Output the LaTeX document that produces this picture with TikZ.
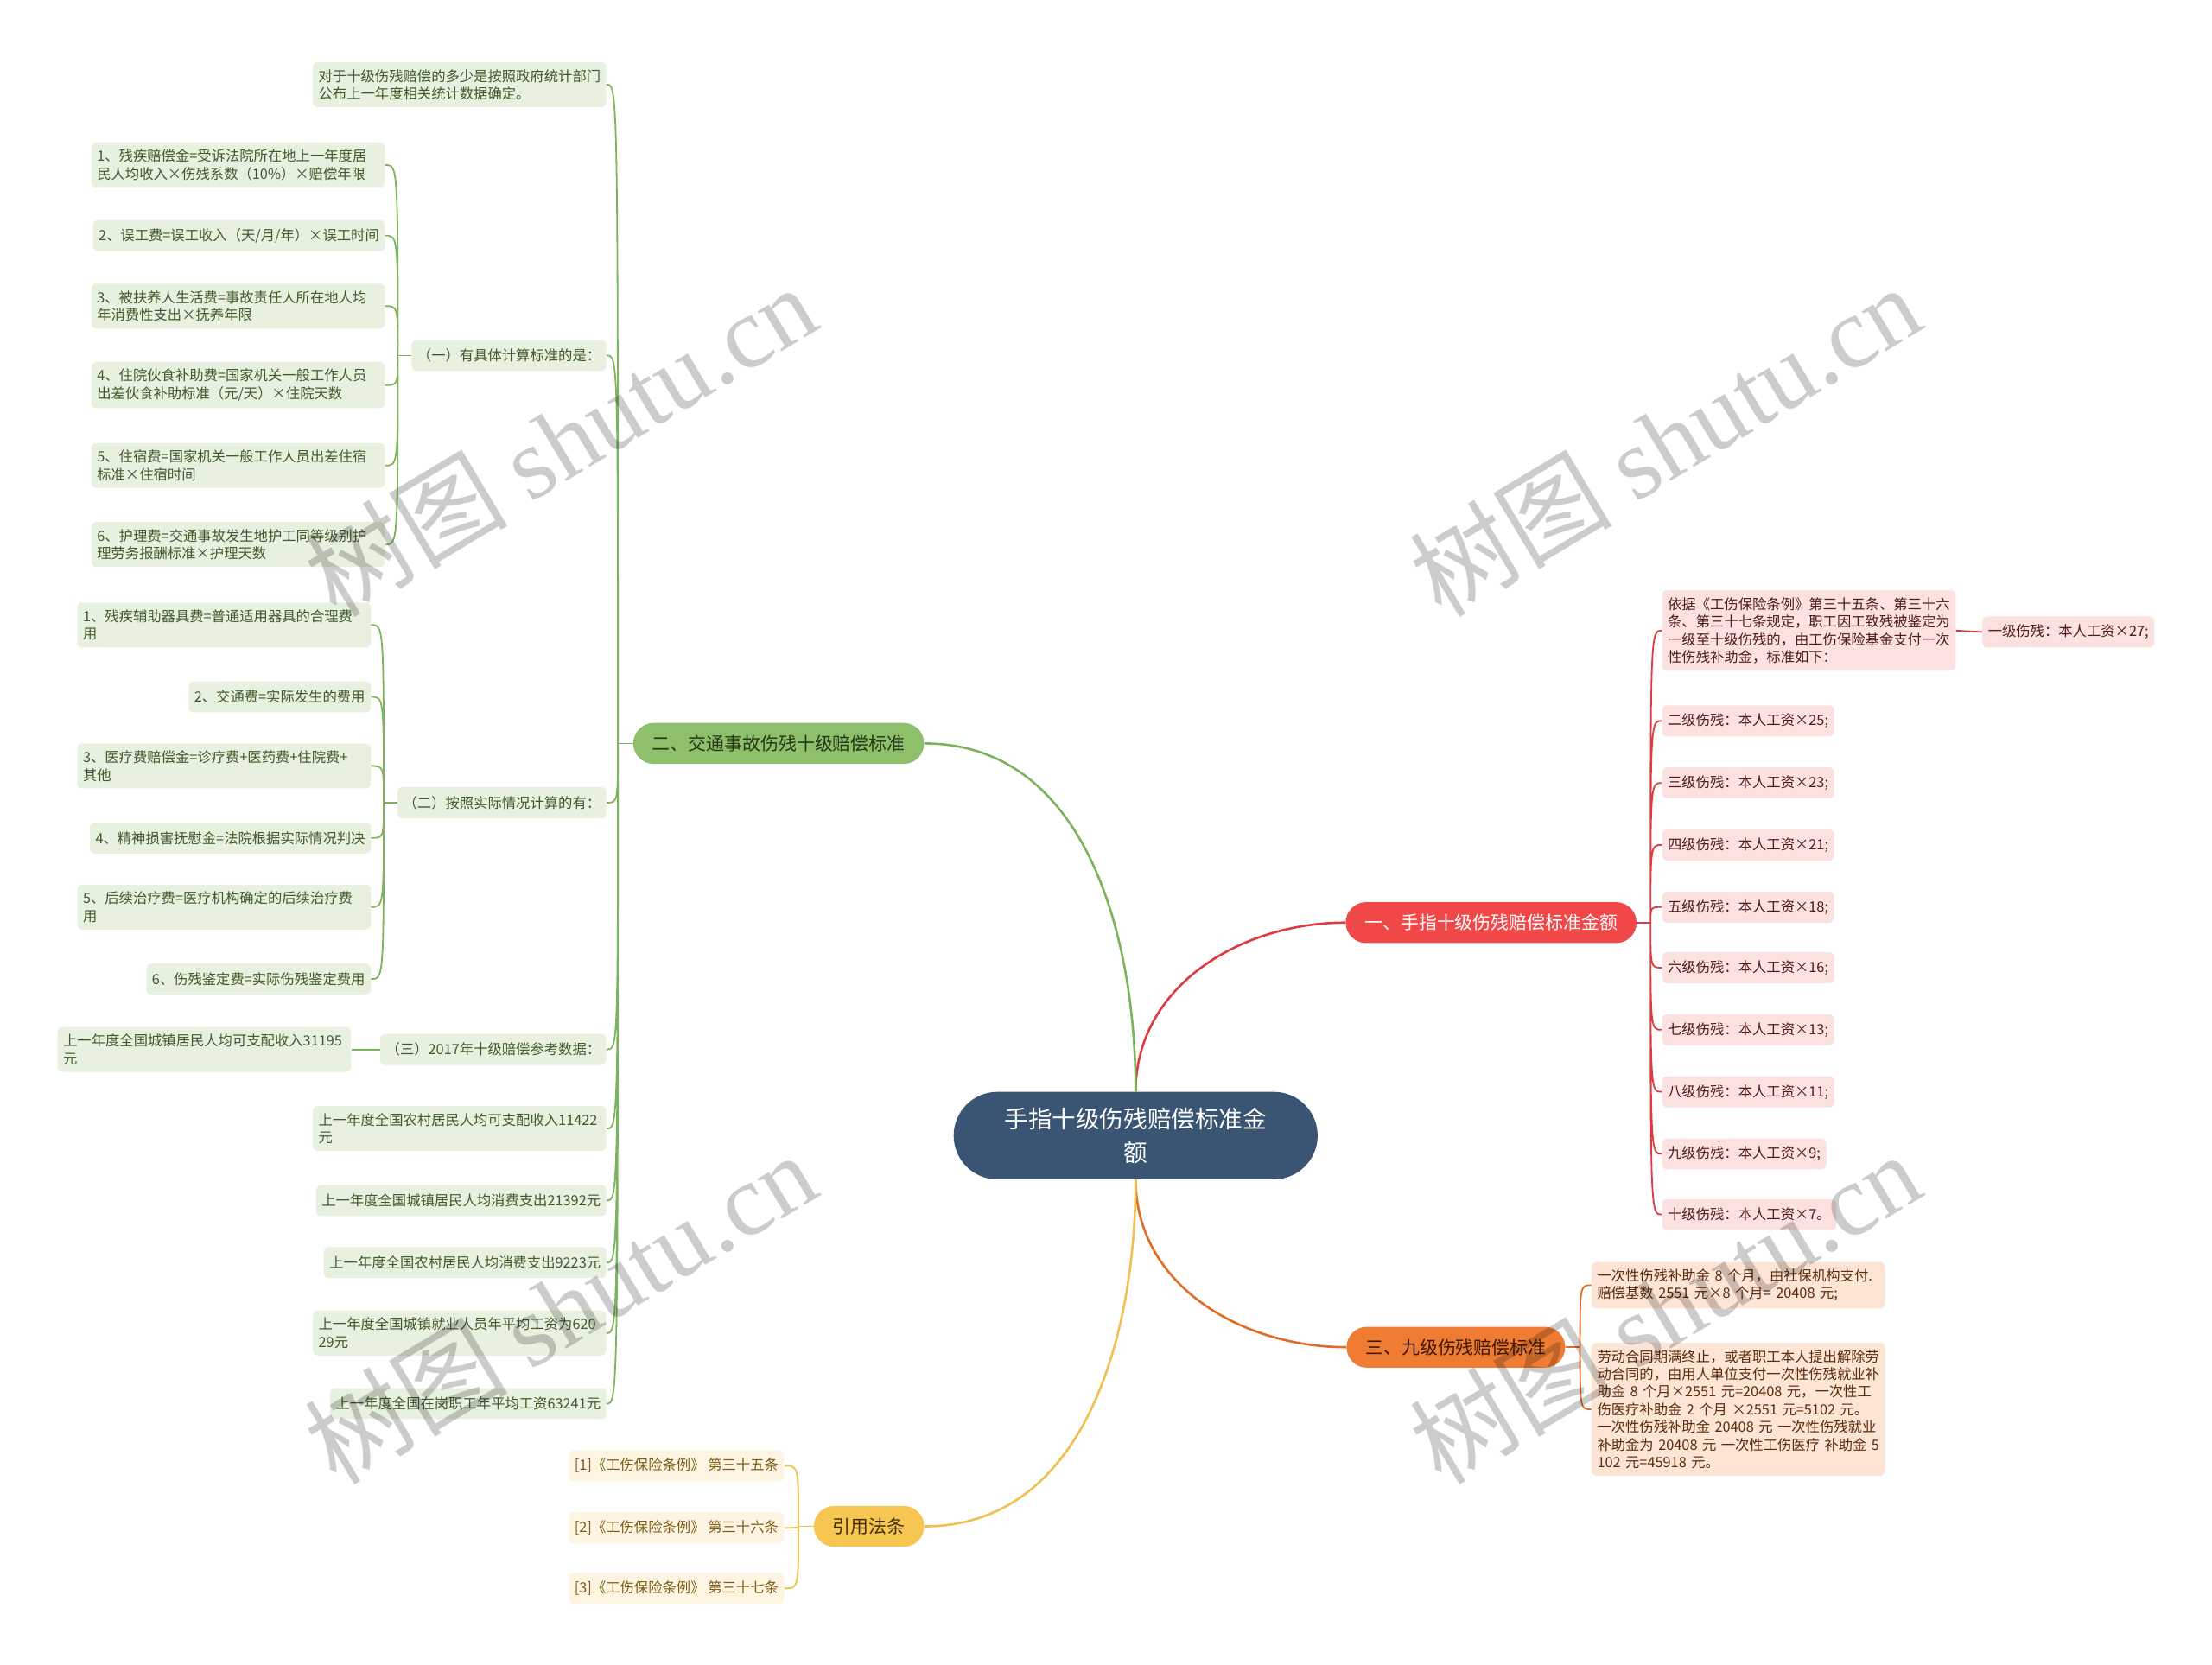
\documentclass[tikz,border=0pt]{standalone}
\usepackage{fontspec}
\setmainfont{Noto Sans CJK SC}
\newfontfamily\wmfont{Liberation Serif}
\usetikzlibrary{calc}

\definecolor{hubblue}{HTML}{3A5573}
\definecolor{rline}{HTML}{DD3B3E}
\definecolor{rfill}{HTML}{F04848}
\definecolor{rpale}{HTML}{FCE1E1}
\definecolor{rtext}{HTML}{4E1A1A}
\definecolor{gline}{HTML}{7DB35C}
\definecolor{gfill}{HTML}{8EC06C}
\definecolor{gpale}{HTML}{E8F0DF}
\definecolor{gtext}{HTML}{3E5A2B}
\definecolor{gdark}{HTML}{26361A}
\definecolor{oline}{HTML}{E06C28}
\definecolor{ofill}{HTML}{F07C34}
\definecolor{opale}{HTML}{FDE5D6}
\definecolor{otext}{HTML}{5A2A0C}
\definecolor{odark}{HTML}{3A1804}
\definecolor{yline}{HTML}{F0C150}
\definecolor{yfill}{HTML}{F7C652}
\definecolor{ypale}{HTML}{FDF4E2}
\definecolor{ytext}{HTML}{7A5A14}
\definecolor{ydark}{HTML}{3D2C00}

\begin{document}
\begin{tikzpicture}[x=1pt,y=-1pt,
  hub/.style={fill=hubblue,text=white,rounded corners=31pt,minimum width=258pt,minimum height=62pt,align=center,font=\fontsize{16.9}{23.5}\selectfont},
  branch/.style={rounded corners=14.5pt,minimum height=29pt,inner xsep=13.5pt,font=\fontsize{12.8}{15}\selectfont},
  leaf/.style={rounded corners=3.5pt,inner xsep=4pt,inner ysep=5pt,minimum height=22pt,align=left,font=\fontsize{10}{12.5}\selectfont},
  wide/.style={text width=200pt},
  rleaf/.style={leaf,fill=rpale,text=rtext},
  gleaf/.style={leaf,fill=gpale,text=gtext},
  oleaf/.style={leaf,fill=opale,text=otext},
  yleaf/.style={leaf,fill=ypale,text=ytext},
  mainlink/.style={line width=1.6pt},
  link/.style={line width=1.1pt},
  brk/.style={to path={.. controls (\tikztostart |- \tikztotarget) .. (\tikztotarget)}},
  wmark/.style={text=black,opacity=0.2,rotate=31,font=\fontsize{72}{72}\selectfont}]
  \fill[white] (0,0) rectangle (1568,1180);
  \useasboundingbox (0,0) rectangle (1568,1180);

  \node[hub] (hub) at (805,805) {手指十级伤残赔偿标准金\\额};

  \node[branch,fill=rfill,text=white] (b1) at (1057,654) {一、手指十级伤残赔偿标准金额};
  \node[branch,fill=gfill,text=gdark] (b2) at (552,527) {二、交通事故伤残十级赔偿标准};
  \node[branch,fill=ofill,text=odark] (b3) at (1032,955) {三、九级伤残赔偿标准};
  \node[branch,fill=yfill,text=ydark] (b4) at (616,1082) {引用法条};

  \draw[mainlink,rline] (hub.north) to[out=90,in=180] (b1.west);
  \draw[mainlink,gline] (hub.north) to[out=90,in=0] (b2.east);
  \draw[mainlink,oline] (hub.south) to[out=-90,in=180] (b3.west);
  \draw[mainlink,yline] (hub.south) to[out=-90,in=0] (b4.east);

  % 一
  \node[rleaf,wide,anchor=west] (r0) at (1178,447) {依据《工伤保险条例》第三十五条、第三十六\\条、第三十七条规定，职工因工致残被鉴定为\\一级至十级伤残的，由工伤保险基金支付一次\\性伤残补助金，标准如下：};
  \node[rleaf,anchor=west] (r1) at (1405,448) {一级伤残：本人工资×27;};
  \node[rleaf,anchor=west] (r2) at (1178,511) {二级伤残：本人工资×25;};
  \node[rleaf,anchor=west] (r3) at (1178,555) {三级伤残：本人工资×23;};
  \node[rleaf,anchor=west] (r4) at (1178,599) {四级伤残：本人工资×21;};
  \node[rleaf,anchor=west] (r5) at (1178,643) {五级伤残：本人工资×18;};
  \node[rleaf,anchor=west] (r6) at (1178,686) {六级伤残：本人工资×16;};
  \node[rleaf,anchor=west] (r7) at (1178,730) {七级伤残：本人工资×13;};
  \node[rleaf,anchor=west] (r8) at (1178,774) {八级伤残：本人工资×11;};
  \node[rleaf,anchor=west] (r9) at (1178,818) {九级伤残：本人工资×9;};
  \node[rleaf,anchor=west] (r10) at (1178,861) {十级伤残：本人工资×7。};
  \coordinate (j1) at (1170,654);
  \draw[link,rline] (b1.east) -- (j1);
  \draw[link,rline] (r0.east) -- (r1.west);
  \draw[link,rline] (j1) to[brk] (r0.west) (j1) to[brk] (r2.west) (j1) to[brk] (r3.west)
    (j1) to[brk] (r4.west) (j1) to[brk] (r5.west) (j1) to[brk] (r6.west)
    (j1) to[brk] (r7.west) (j1) to[brk] (r8.west) (j1) to[brk] (r9.west) (j1) to[brk] (r10.west);

  % 二
  \node[gleaf,wide,anchor=east] (g1) at (430,60) {对于十级伤残赔偿的多少是按照政府统计部门\\公布上一年度相关统计数据确定。};
  \node[gleaf,anchor=east] (ga) at (430,252) {（一）有具体计算标准的是：};
  \node[gleaf,anchor=east] (gb) at (430,569) {（二）按照实际情况计算的有：};
  \node[gleaf,anchor=east] (gc) at (430,744) {（三）2017年十级赔偿参考数据：};
  \node[gleaf,wide,anchor=east] (g5) at (430,800) {上一年度全国农村居民人均可支配收入11422\\元};
  \node[gleaf,anchor=east] (g6) at (430,851) {上一年度全国城镇居民人均消费支出21392元};
  \node[gleaf,anchor=east] (g7) at (430,895) {上一年度全国农村居民人均消费支出9223元};
  \node[gleaf,wide,anchor=east] (g8) at (430,945) {上一年度全国城镇就业人员年平均工资为620\\29元};
  \node[gleaf,anchor=east] (g9) at (430,995) {上一年度全国在岗职工年平均工资63241元};
  \coordinate (j2) at (438,527);
  \draw[link,gline] (b2.west) -- (j2);
  \draw[link,gline] (j2) to[brk] (g1.east) (j2) to[brk] (ga.east) (j2) to[brk] (gb.east)
    (j2) to[brk] (gc.east) (j2) to[brk] (g5.east) (j2) to[brk] (g6.east)
    (j2) to[brk] (g7.east) (j2) to[brk] (g8.east) (j2) to[brk] (g9.east);

  \node[gleaf,wide,anchor=east] (a1) at (273,117) {1、残疾赔偿金=受诉法院所在地上一年度居\\民人均收入×伤残系数（10\%）×赔偿年限};
  \node[gleaf,anchor=east] (a2) at (273,167) {2、误工费=误工收入（天/月/年）×误工时间};
  \node[gleaf,wide,anchor=east] (a3) at (273,217) {3、被扶养人生活费=事故责任人所在地人均\\年消费性支出×抚养年限};
  \node[gleaf,wide,anchor=east] (a4) at (273,273) {4、住院伙食补助费=国家机关一般工作人员\\出差伙食补助标准（元/天）×住院天数};
  \node[gleaf,wide,anchor=east] (a5) at (273,330) {5、住宿费=国家机关一般工作人员出差住宿\\标准×住宿时间};
  \node[gleaf,wide,anchor=east] (a6) at (273,386) {6、护理费=交通事故发生地护工同等级别护\\理劳务报酬标准×护理天数};
  \coordinate (ja) at (282,252);
  \draw[link,gline] (ga.west) -- (ja);
  \draw[link,gline] (ja) to[brk] (a1.east) (ja) to[brk] (a2.east) (ja) to[brk] (a3.east)
    (ja) to[brk] (a4.east) (ja) to[brk] (a5.east) (ja) to[brk] (a6.east);

  \node[gleaf,wide,anchor=east] (c1) at (263,443) {1、残疾辅助器具费=普通适用器具的合理费\\用};
  \node[gleaf,anchor=east] (c2) at (263,494) {2、交通费=实际发生的费用};
  \node[gleaf,wide,anchor=east] (c3) at (263,543) {3、医疗费赔偿金=诊疗费+医药费+住院费+\\其他};
  \node[gleaf,anchor=east] (c4) at (263,594) {4、精神损害抚慰金=法院根据实际情况判决};
  \node[gleaf,wide,anchor=east] (c5) at (263,643) {5、后续治疗费=医疗机构确定的后续治疗费\\用};
  \node[gleaf,anchor=east] (c6) at (263,694) {6、伤残鉴定费=实际伤残鉴定费用};
  \coordinate (jb) at (272,569);
  \draw[link,gline] (gb.west) -- (jb);
  \draw[link,gline] (jb) to[brk] (c1.east) (jb) to[brk] (c2.east) (jb) to[brk] (c3.east)
    (jb) to[brk] (c4.east) (jb) to[brk] (c5.east) (jb) to[brk] (c6.east);

  \node[gleaf,wide,anchor=east] (d1) at (249,744) {上一年度全国城镇居民人均可支配收入31195\\元};
  \draw[link,gline] (gc.west) -- (d1.east);

  % 三
  \node[oleaf,wide,anchor=west] (o1) at (1128,911) {一次性伤残补助金 8 个月，由社保机构支付.\\赔偿基数 2551 元×8 个月= 20408 元;};
  \node[oleaf,wide,anchor=west] (o2) at (1128,999) {劳动合同期满终止，或者职工本人提出解除劳\\动合同的，由用人单位支付一次性伤残就业补\\助金 8 个月×2551 元=20408 元，一次性工\\伤医疗补助金 2 个月 ×2551 元=5102 元。\\一次性伤残补助金 20408 元 一次性伤残就业\\补助金为 20408 元 一次性工伤医疗 补助金 5\\102 元=45918 元。};
  \coordinate (j3) at (1120,955);
  \draw[link,oline] (b3.east) -- (j3);
  \draw[link,oline] (j3) to[brk] (o1.west) (j3) to[brk] (o2.west);

  % 引用法条
  \node[yleaf,anchor=east] (y1) at (556,1039) {[1]《工伤保险条例》 第三十五条};
  \node[yleaf,anchor=east] (y2) at (556,1083) {[2]《工伤保险条例》 第三十六条};
  \node[yleaf,anchor=east] (y3) at (556,1126) {[3]《工伤保险条例》 第三十七条};
  \coordinate (j4) at (566,1082);
  \draw[link,yline] (b4.west) -- (j4);
  \draw[link,yline] (j4) to[brk] (y1.east) (j4) to[brk] (y2.east) (j4) to[brk] (y3.east);

  \node[wmark] (w1) at (397,312) {树图 {\wmfont shutu.cn}};
  \node[wmark] (w2) at (1180,312) {树图 {\wmfont shutu.cn}};
  \node[wmark] (w3) at (397,927) {树图 {\wmfont shutu.cn}};
  \node[wmark] (w4) at (1180,927) {树图 {\wmfont shutu.cn}};
\end{tikzpicture}
\end{document}
